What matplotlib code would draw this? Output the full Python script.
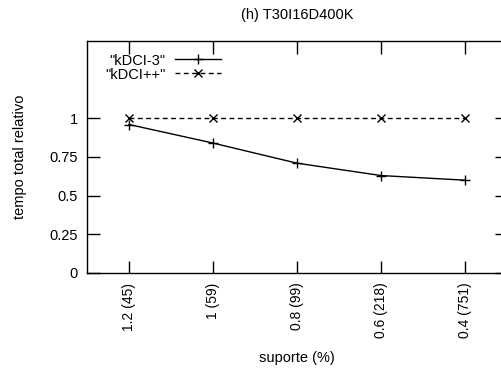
import matplotlib
matplotlib.use("Agg")
import matplotlib.pyplot as plt

plt.rcParams['font.family'] = ['Liberation Sans', 'DejaVu Sans']
plt.rcParams['font.size'] = 10.5

# suporte (%) com número de itens frequentes entre parênteses
rotulos = ["1.2 (45)", "1 (59)", "0.8 (99)", "0.6 (218)", "0.4 (751)"]
kdci3 = [0.96, 0.84, 0.71, 0.63, 0.60]
kdcipp = [1.0, 1.0, 1.0, 1.0, 1.0]

x = list(range(len(rotulos)))

fig = plt.figure(figsize=(5.02, 3.70), dpi=100)
ax = fig.add_axes([0.1733, 0.2622, 0.8367, 0.627])

ax.plot(x, kdci3, color='black', lw=1.0, marker='+', ms=6.5, mew=1.0, label='"kDCI-3"')
ax.plot(x, kdcipp, color='black', lw=1.0, ls=(0, (3.5, 2.5)), marker='x', ms=6, mew=1.0, label='"kDCI++"')

ax.set_xlim(-0.5, 4.5)
ax.set_ylim(0, 1.5)
ax.set_xticks(x)
ax.set_xticklabels(rotulos, rotation=90, fontsize=10)
ax.set_yticks([0, 0.25, 0.5, 0.75, 1])
ax.set_yticklabels(["0", "0.25", "0.5", "0.75", "1"])
ax.tick_params(direction='in', length=9, width=1.0, top=True, right=True)
ax.tick_params(axis='x', pad=7)
ax.tick_params(axis='y', pad=6.5)
for s in ax.spines.values():
    s.set_linewidth(1.0)

ax.set_title("(h) T30I16D400K", fontsize=10.5, pad=16)
ax.set_xlabel("suporte (%)", labelpad=9)
ax.set_ylabel("tempo total relativo", labelpad=16)

# legenda no estilo gnuplot: texto à direita, amostra depois
leg = ax.legend(loc='upper left', bbox_to_anchor=(0.018, 0.99), frameon=False,
                markerfirst=False, handlelength=3.1, handletextpad=0.7,
                labelspacing=0.0, borderaxespad=0.3)

fig.savefig("out.png", dpi=100)
